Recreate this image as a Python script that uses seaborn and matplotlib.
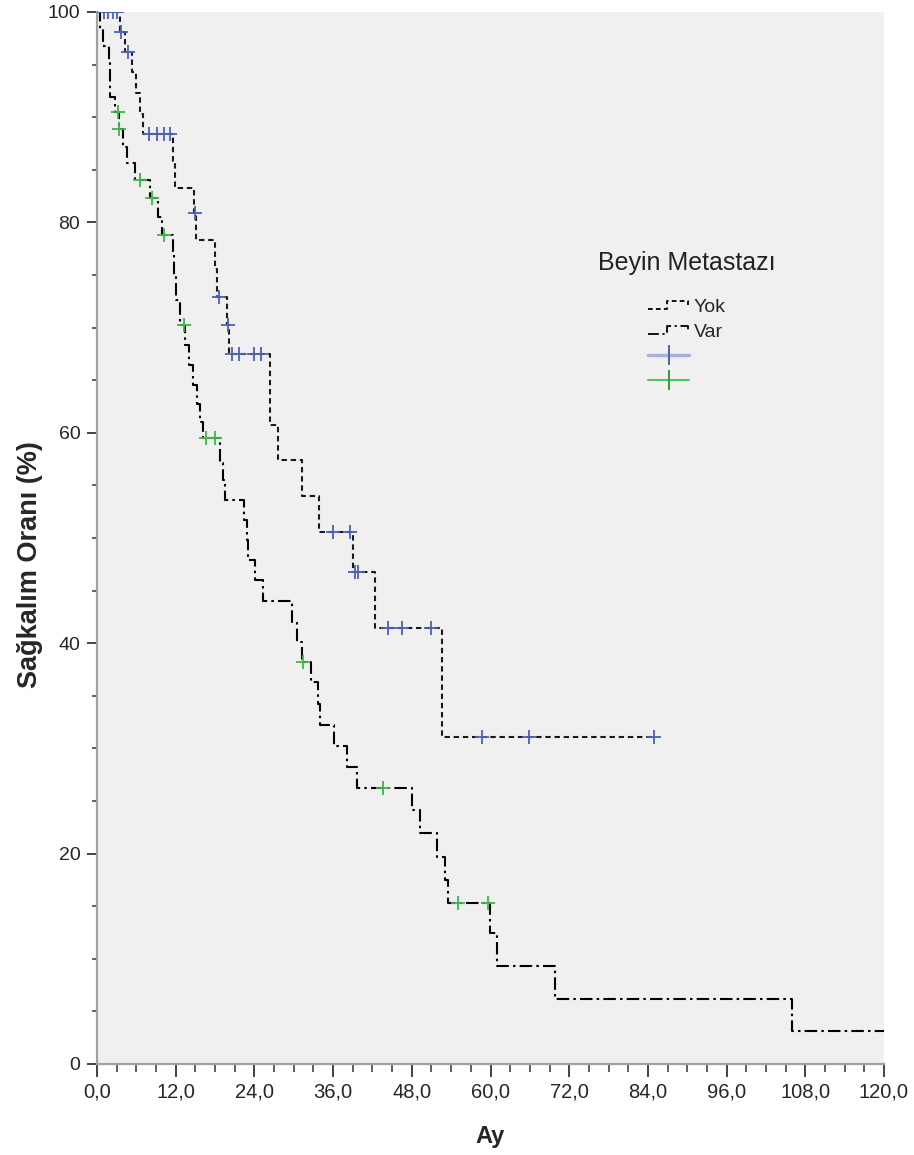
import numpy as np
import pandas as pd
import matplotlib
matplotlib.use('Agg')
import matplotlib.pyplot as plt
import seaborn as sns
from matplotlib.lines import Line2D
from matplotlib.legend_handler import HandlerBase
from matplotlib.ticker import MultipleLocator

# Kaplan-Meier steps (time in months, survival in %)
yok_time = [0, 3.5, 4.3, 5.3, 5.9, 6.6, 7.0, 11.6, 11.9, 14.8, 15.1, 18.0, 18.3,
            19.8, 20.2, 26.4, 27.6, 31.2, 33.8, 39.0, 42.4, 52.6, 85.0]
yok_surv = [100, 98.1, 96.2, 94.3, 92.3, 90.3, 88.4, 85.8, 83.3, 80.9, 78.3, 75.6, 72.9,
            70.2, 67.5, 60.7, 57.4, 54.0, 50.6, 46.8, 41.4, 31.1, 31.1]
yok_cens_time = [1.0, 1.7, 2.4, 3.0, 3.6, 4.7, 8.0, 9.2, 10.2, 11.2, 14.9, 18.6, 20.0,
                 20.6, 21.6, 24.0, 25.0, 36.0, 38.6, 39.4, 39.8, 44.4, 46.5, 51.0,
                 58.7, 65.9, 85.0]
yok_cens_surv = [100, 100, 100, 100, 98.1, 96.2, 88.4, 88.4, 88.4, 88.4, 80.9, 72.9, 70.2,
                 67.5, 67.5, 67.5, 67.5, 50.6, 50.6, 46.8, 46.8, 41.4, 41.4, 41.4,
                 31.1, 31.1, 31.1]

var_time = [0, 0.5, 0.9, 1.8, 2.0, 2.7, 3.3, 4.0, 4.5, 5.8, 8.1, 9.3, 9.9, 11.6, 11.8,
            12.0, 12.6, 13.4, 14.0, 14.6, 15.2, 15.7, 16.2, 18.7, 19.2, 19.5, 22.4,
            22.8, 23.1, 24.1, 25.3, 29.7, 30.5, 31.2, 32.6, 33.7, 34.0, 36.1, 38.1,
            39.6, 48.0, 49.2, 51.8, 53.0, 53.5, 59.9, 61.0, 69.8, 105.9, 120.0]
var_surv = [100, 98.4, 96.8, 95.2, 91.9, 90.5, 88.9, 87.2, 85.6, 84.0, 82.3, 80.5, 78.8,
            77.1, 75.0, 72.6, 70.2, 68.3, 66.4, 64.5, 62.7, 61.0, 59.5, 57.1, 55.5, 53.6,
            51.7, 49.8, 47.9, 46.0, 44.0, 41.9, 40.1, 38.2, 36.3, 34.2, 32.2, 30.2, 28.2,
            26.2, 24.1, 22.0, 19.7, 17.5, 15.3, 12.5, 9.3, 6.2, 3.1, 3.1]
var_cens_time = [3.2, 3.4, 6.5, 8.4, 10.2, 13.2, 16.6, 18.0, 31.4, 43.6, 55.0, 59.6]
var_cens_surv = [90.5, 88.9, 84.0, 82.3, 78.8, 70.2, 59.5, 59.5, 38.2, 26.2, 15.3, 15.3]

x_ticks = [0, 12, 24, 36, 48, 60, 72, 84, 96, 108, 120]
x_tick_labels = ['0,0', '12,0', '24,0', '36,0', '48,0', '60,0', '72,0', '84,0',
                 '96,0', '108,0', '120,0']
y_ticks = [0, 20, 40, 60, 80, 100]

groups = ['Yok', 'Var']
blue = '#4a62b3'
green = '#3fb54a'
yok_ls = (0, (2.6, 1.8))
var_ls = (0, (6, 2, 1.2, 2))

sns.set_theme(style='ticks')
plt.rcParams['font.family'] = ['Liberation Sans', 'DejaVu Sans']

fig = plt.figure(figsize=(9.14, 11.55), dpi=100)
ax = fig.add_axes([97 / 914, 1 - 1064 / 1155, 787 / 914, 1052 / 1155])
ax.set_facecolor('#f0f0f0')

sns.lineplot(x=yok_time, y=yok_surv, ax=ax, drawstyle='steps-post', estimator=None,
             sort=False, color='#1a1a1a', linewidth=1.5, linestyle=yok_ls)
sns.lineplot(x=var_time, y=var_surv, ax=ax, drawstyle='steps-post', estimator=None,
             sort=False, color='black', linewidth=1.5, linestyle=var_ls)
sns.scatterplot(x=yok_cens_time, y=yok_cens_surv, ax=ax, marker='+', s=110,
                color=blue, linewidth=1.3, zorder=5)
sns.scatterplot(x=var_cens_time, y=var_cens_surv, ax=ax, marker='+', s=110,
                color=green, linewidth=1.3, zorder=5)

ax.set_xlim(0, 120)
ax.set_ylim(0, 100)
ax.set_xticks(x_ticks)
ax.set_xticklabels(x_tick_labels, fontsize=14.5)
ax.set_yticks(y_ticks)
ax.set_yticklabels([str(v) for v in y_ticks], fontsize=14)
ax.xaxis.set_minor_locator(MultipleLocator(3))
ax.yaxis.set_minor_locator(MultipleLocator(5))
ax.tick_params(axis='x', which='major', length=9.5, width=1.3, color='#333333', pad=4)
ax.tick_params(axis='x', which='minor', length=5.5, width=1.1, color='#333333')
ax.tick_params(axis='y', which='major', length=7.5, width=1.3, color='#333333', pad=4.5)
ax.tick_params(axis='y', which='minor', length=3.8, width=1.1, color='#333333')

for side in ['top', 'right']:
    ax.spines[side].set_visible(False)
for side in ['left', 'bottom']:
    ax.spines[side].set_color('#a0a0a0')
    ax.spines[side].set_linewidth(1.6)

ax.set_xlabel('Ay', fontsize=17, fontweight='bold')
ax.xaxis.set_label_coords(0.5, (1064 - 1125) / 1052)
ax.set_ylabel('Sağkalım Oranı (%)', fontsize=19.5, fontweight='bold')
ax.yaxis.set_label_coords((43 - 97) / 787, (1064 - 565) / 1052)


class StepHandler(HandlerBase):
    def __init__(self, ls):
        super().__init__()
        self.ls = ls

    def create_artists(self, legend, orig_handle, xdescent, ydescent, width, height,
                       fontsize, trans):
        x0 = -xdescent
        y0 = -ydescent
        xs = [x0, x0 + 0.45 * width, x0 + 0.45 * width,
              x0 + 0.97 * width, x0 + 0.97 * width]
        ys = [y0 + 0.2 * height, y0 + 0.2 * height, y0 + 0.8 * height,
              y0 + 0.8 * height, y0 + 0.5 * height]
        line = Line2D(xs, ys, color='black', linewidth=1.3, linestyle=self.ls)
        line.set_transform(trans)
        return [line]


# legend title drawn as its own text, entries below it
fig.text(687 / 914, 1 - 263 / 1155, 'Beyin Metastazı', ha='center', va='center',
         fontsize=18, color='#222222')

h_yok = Line2D([], [], color='black')
h_var = Line2D([], [], color='black')
h_bc = Line2D([], [], color='#a9b2de', marker='|', markersize=14, markeredgewidth=1.4,
              markeredgecolor=blue, linestyle='-', linewidth=2.5)
h_gc = Line2D([], [], color='#52c45e', marker='|', markersize=14, markeredgewidth=1.4,
              markeredgecolor='#2f9a3a', linestyle='-', linewidth=1.5)
leg = ax.legend([h_yok, h_var, h_bc, h_gc], [groups[0], groups[1], '', ''],
                handler_map={h_yok: StepHandler(yok_ls), h_var: StepHandler(var_ls)},
                frameon=False, fontsize=14,
                handlelength=2.1, handletextpad=0.25, labelspacing=0.38,
                loc='upper center', bbox_to_anchor=(687 / 914, 1 - 281 / 1155),
                bbox_transform=fig.transFigure)

fig.savefig('out.png', dpi=100)
